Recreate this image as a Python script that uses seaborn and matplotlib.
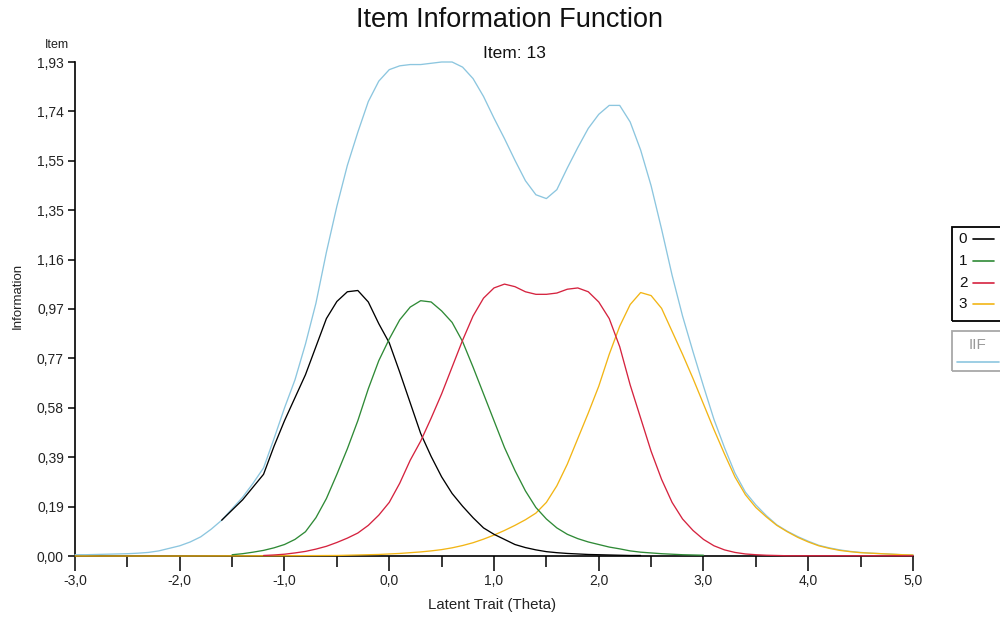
import numpy as np
import pandas as pd
import matplotlib
matplotlib.use("Agg")
import matplotlib.pyplot as plt
from matplotlib import font_manager
from matplotlib.lines import Line2D
from matplotlib.patches import Rectangle
import seaborn as sns

# ---- category information curves (theta grid, information values) ----
theta_0 = np.round(np.arange(-1.6, 2.41, 0.1), 1)
info_0 = [0.14, 0.18, 0.22, 0.27, 0.32, 0.43, 0.53, 0.62, 0.71, 0.82,
          0.93, 0.997, 1.035, 1.04, 0.995, 0.91, 0.835, 0.72, 0.60, 0.48,
          0.39, 0.31, 0.245, 0.195, 0.15, 0.11, 0.085, 0.065, 0.045, 0.033,
          0.024, 0.017, 0.013, 0.010, 0.008, 0.006, 0.005, 0.004, 0.003, 0.002,
          0.002]

theta_1 = np.round(np.arange(-1.5, 3.01, 0.1), 1)
info_1 = [0.005, 0.009, 0.015, 0.022, 0.032, 0.045, 0.065, 0.095, 0.15, 0.225,
          0.32, 0.42, 0.53, 0.655, 0.765, 0.85, 0.925, 0.975, 1.00, 0.995,
          0.96, 0.915, 0.84, 0.74, 0.635, 0.53, 0.425, 0.335, 0.255, 0.19,
          0.145, 0.11, 0.085, 0.068, 0.055, 0.045, 0.035, 0.028, 0.02, 0.015,
          0.012, 0.009, 0.007, 0.005, 0.004, 0.003]

theta_2 = np.round(np.arange(-1.2, 5.01, 0.1), 1)
info_2 = [0.002, 0.004, 0.007, 0.012, 0.018, 0.027, 0.038, 0.053, 0.07, 0.09,
          0.12, 0.16, 0.21, 0.285, 0.375, 0.45, 0.54, 0.635, 0.74, 0.845,
          0.94, 1.01, 1.05, 1.065, 1.055, 1.035, 1.025, 1.025, 1.03, 1.045,
          1.05, 1.035, 0.995, 0.93, 0.82, 0.67, 0.54, 0.41, 0.30, 0.21,
          0.145, 0.10, 0.065, 0.04, 0.024, 0.014, 0.008, 0.005, 0.003, 0.002,
          0.001, 0.001, 0.001, 0.001, 0.001, 0.001, 0.001, 0.001, 0.001, 0.001,
          0.001, 0.001, 0.001]

theta_3 = np.concatenate([[-3.0, -2.0, -1.0], np.round(np.arange(-0.5, 5.01, 0.1), 1)])
info_3 = [0.0, 0.0, 0.001,
          0.002, 0.003, 0.004, 0.005, 0.006, 0.008, 0.010, 0.013, 0.016, 0.020,
          0.025, 0.032, 0.041, 0.052, 0.066, 0.082, 0.100, 0.120, 0.142, 0.168,
          0.21, 0.275, 0.36, 0.46, 0.56, 0.665, 0.79, 0.90, 0.985, 1.032,
          1.02, 0.97, 0.88, 0.79, 0.695, 0.595, 0.495, 0.40, 0.31, 0.24,
          0.19, 0.153, 0.12, 0.095, 0.073, 0.055, 0.04, 0.03, 0.022, 0.017,
          0.013, 0.011, 0.009, 0.007, 0.005, 0.004]

# ---- item information function ----
theta_iif = np.round(np.arange(-3.0, 5.01, 0.1), 1)
info_iif = [0.005, 0.005, 0.006, 0.007, 0.008, 0.009, 0.011, 0.014, 0.02, 0.03,
            0.04, 0.055, 0.075, 0.105, 0.14, 0.185, 0.23, 0.285, 0.345, 0.46,
            0.58, 0.69, 0.83, 0.99, 1.19, 1.37, 1.53, 1.66, 1.78, 1.86,
            1.905, 1.92, 1.925, 1.925, 1.93, 1.935, 1.935, 1.915, 1.87, 1.80,
            1.715, 1.635, 1.55, 1.47, 1.415, 1.40, 1.435, 1.52, 1.60, 1.675,
            1.73, 1.765, 1.765, 1.70, 1.59, 1.45, 1.28, 1.10, 0.94, 0.80,
            0.665, 0.535, 0.425, 0.325, 0.25, 0.20, 0.158, 0.122, 0.097, 0.076,
            0.058, 0.042, 0.032, 0.024, 0.018, 0.014, 0.011, 0.009, 0.007, 0.005,
            0.004]

categories = ["0", "1", "2", "3"]
y_max = 1.935
y_tick_labels = ["0,00", "0,19", "0,39", "0,58", "0,77", "0,97",
                 "1,16", "1,35", "1,55", "1,74", "1,93"]
x_ticks = [-3, -2, -1, 0, 1, 2, 3, 4, 5]
x_tick_labels = ["-3,0", "-2,0", "-1,0", "0,0", "1,0", "2,0", "3,0", "4,0", "5,0"]

colors = {"IIF": "#8cc6df", "0": "#000000", "1": "#2f8a36",
          "2": "#d5233f", "3": "#f2b515"}
draw_order = ["IIF", "3", "0", "1", "2"]

sns.set_theme(style="white")
available = {f.name for f in font_manager.fontManager.ttflist}
family = [n for n in ["Liberation Sans Narrow", "Arial Narrow", "Liberation Sans",
                      "DejaVu Sans"] if n in available]
plt.rcParams["font.family"] = family

frames = [
    pd.DataFrame({"theta": theta_iif, "information": info_iif, "series": "IIF"}),
    pd.DataFrame({"theta": theta_0, "information": info_0, "series": "0"}),
    pd.DataFrame({"theta": theta_1, "information": info_1, "series": "1"}),
    pd.DataFrame({"theta": theta_2, "information": info_2, "series": "2"}),
    pd.DataFrame({"theta": theta_3, "information": info_3, "series": "3"}),
]
df = pd.concat(frames, ignore_index=True)

fig = plt.figure(figsize=(10, 6.23), dpi=100)
ax = fig.add_axes([0.075, 1 - 556 / 623, 0.838, 494 / 623])

sns.lineplot(data=df, x="theta", y="information", hue="series",
             hue_order=draw_order, palette=colors, estimator=None, sort=False,
             linewidth=0.95, legend=False, ax=ax)
for ln in ax.lines:
    ln.set_clip_on(False)
    ln.set_zorder(3)
    ln.set_solid_joinstyle("round")

ax.set_xlim(-3, 5)
ax.set_ylim(0, y_max)
ax.set_xticks(x_ticks)
ax.set_xticklabels(x_tick_labels)
ax.set_xticks(np.arange(-2.5, 5, 1.0), minor=True)
ax.set_yticks(np.arange(11) * y_max / 10)
ax.set_yticklabels(y_tick_labels)

for side in ["top", "right"]:
    ax.spines[side].set_visible(False)
for side in ["left", "bottom"]:
    ax.spines[side].set_color("black")
    ax.spines[side].set_linewidth(1.2)
    ax.spines[side].set_zorder(2.5)

ax.tick_params(axis="x", which="major", bottom=True, direction="out", length=11,
               width=1.1, color="black", labelsize=10, pad=2, labelcolor="#222222")
ax.tick_params(axis="x", which="minor", bottom=True, direction="out", length=8,
               width=1.1, color="black")
ax.tick_params(axis="y", which="major", left=True, direction="out", length=5,
               width=1.1, color="black", labelsize=10, pad=3, labelcolor="#222222")

ax.set_xlabel("Latent Trait (Theta)", fontsize=10.8, color="#222222")
ax.xaxis.set_label_coords((492 - 75) / 838, (556 - 605) / 494)
ax.xaxis.label.set_va("center")
ax.set_ylabel("Information", fontsize=9.5, color="#222222")
ax.yaxis.set_label_coords((18 - 75) / 838, (556 - 296) / 494)
ax.yaxis.label.set_va("center")

fig.text(0.510, 1 - 20 / 623, "Item Information Function", ha="center",
         va="center", fontsize=19.5, color="#111111")
fig.text(0.514, 1 - 53 / 623, "Item: 13", ha="center", va="center",
         fontsize=12.5, color="#111111")
fig.text(0.057, 1 - 45 / 623, "Item", ha="center", va="center", fontsize=9,
         color="#222222")

# ---- legend boxes at the right edge ----
def fx(px):
    return px / 1000


def fy(py):
    return 1 - py / 623


fig.add_artist(Rectangle((fx(952), fy(321)), fx(70), 94 / 623, transform=fig.transFigure,
                         fill=False, edgecolor="black", linewidth=1.3))
rows_y = [239, 261, 283, 304]
for cat, ry in zip(categories, rows_y):
    fig.text(fx(963), fy(ry), cat, ha="center", va="center", fontsize=11,
             color="#111111")
    fig.add_artist(Line2D([fx(973), fx(994)], [fy(ry), fy(ry)],
                          transform=fig.transFigure, color=colors[cat], linewidth=1.2))

fig.add_artist(Rectangle((fx(952), fy(371)), fx(70), 40 / 623, transform=fig.transFigure,
                         fill=False, edgecolor="#a8a8a8", linewidth=1.3))
fig.text(fx(978), fy(345), "IIF", ha="center", va="center", fontsize=11,
         color="#9a9a9a")
fig.add_artist(Line2D([fx(957), fx(999)], [fy(362), fy(362)],
                      transform=fig.transFigure, color=colors["IIF"], linewidth=1.2))

fig.savefig("out.png", dpi=100, facecolor="white")
